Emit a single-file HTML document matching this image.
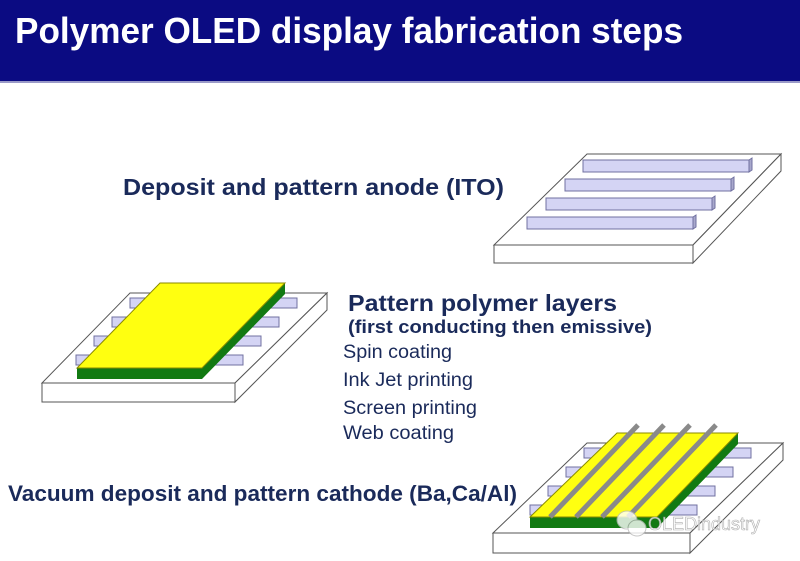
<!DOCTYPE html>
<html><head><meta charset="utf-8"><style>
html,body{margin:0;padding:0;background:#fff;}
svg{display:block;}
text{font-family:"Liberation Sans",Arial,sans-serif;}
</style></head><body>
<svg width="800" height="561" viewBox="0 0 800 561" xmlns="http://www.w3.org/2000/svg">
<rect x="0" y="0" width="800" height="561" fill="#fff"/>
<rect x="0" y="0" width="800" height="81" fill="#0b0b82"/>
<rect x="0" y="81" width="800" height="2" fill="#9a9ac8"/>
<text x="15" y="43" font-size="36" font-weight="bold" fill="#fff" textLength="668" lengthAdjust="spacingAndGlyphs">Polymer OLED display fabrication steps</text>

<!-- Figure 1: anode -->
<g stroke="#555" stroke-width="1" fill="#fff">
<polygon points="587,154 781,154 693,245 494,245"/>
<rect x="494" y="245" width="199" height="18"/>
<polygon points="693,245 781,154 781,171 693,263"/>
</g>
<g fill="#d4d4f4" stroke="#7070a0" stroke-width="1">
<rect x="583" y="160" width="166" height="12"/><polygon points="749,160 752,158 752,170 749,172" fill="#a8a8cc"/>
<rect x="565" y="179" width="166" height="12"/><polygon points="731,179 734,177 734,189 731,191" fill="#a8a8cc"/>
<rect x="546" y="198" width="166" height="12"/><polygon points="712,198 715,196 715,208 712,210" fill="#a8a8cc"/>
<rect x="527" y="217" width="166" height="12"/><polygon points="693,217 696,215 696,227 693,229" fill="#a8a8cc"/>
</g>

<!-- Figure 2 -->
<g stroke="#555" stroke-width="1" fill="#fff">
<polygon points="130,293 327,293 235,383 42,383"/>
<rect x="42" y="383" width="193" height="19"/>
<polygon points="235,383 327,293 327,310 235,402"/>
</g>
<g fill="#d4d4f4" stroke="#7070a0" stroke-width="1">
<rect x="130" y="298" width="167" height="10"/>
<rect x="112" y="317" width="167" height="10"/>
<rect x="94" y="336" width="167" height="10"/>
<rect x="76" y="355" width="167" height="10"/>
</g>
<polygon points="77,368 202,368 202,379 77,379" fill="#127a12"/>
<polygon points="202,368 285,283 285,294 202,379" fill="#127a12"/>
<polygon points="160,283 285,283 202,368 77,368" fill="#ffff10" stroke="#8a8a00" stroke-width="1"/>

<!-- Figure 3 -->
<g stroke="#555" stroke-width="1" fill="#fff">
<polygon points="587,443 783,443 690,533 493,533"/>
<rect x="493" y="533" width="197" height="20"/>
<polygon points="690,533 783,443 783,460 690,553"/>
</g>
<g fill="#d4d4f4" stroke="#7070a0" stroke-width="1">
<rect x="584" y="448" width="167" height="10"/>
<rect x="566" y="467" width="167" height="10"/>
<rect x="548" y="486" width="167" height="10"/>
<rect x="530" y="505" width="167" height="10"/>
</g>
<polygon points="530,517 657,517 657,528 530,528" fill="#127a12"/>
<polygon points="657,517 738,433 738,444 657,528" fill="#127a12"/>
<polygon points="617,433 738,433 657,517 530,517" fill="#ffff10" stroke="#8a8a00" stroke-width="1"/>
<g stroke="#8a8a8a" stroke-width="5" stroke-linecap="butt">
<line x1="638" y1="425" x2="550" y2="517"/>
<line x1="664" y1="425" x2="576" y2="517"/>
<line x1="690" y1="425" x2="602" y2="517"/>
<line x1="716" y1="425" x2="628" y2="517"/>
</g>

<!-- Texts -->
<g fill="#1a2a5a" font-weight="bold">
<text x="123" y="195" font-size="23" textLength="381" lengthAdjust="spacingAndGlyphs">Deposit and pattern anode (ITO)</text>
<text x="348" y="311" font-size="23" textLength="269" lengthAdjust="spacingAndGlyphs">Pattern polymer layers</text>
<text x="348" y="333" font-size="18.5" textLength="304" lengthAdjust="spacingAndGlyphs">(first conducting then emissive)</text>
<text x="8" y="501" font-size="22.5" textLength="509" lengthAdjust="spacingAndGlyphs">Vacuum deposit and pattern cathode (Ba,Ca/Al)</text>
</g>
<g fill="#1a2a5a" font-size="19">
<text x="343" y="358" textLength="109" lengthAdjust="spacingAndGlyphs">Spin coating</text>
<text x="343" y="386" textLength="130" lengthAdjust="spacingAndGlyphs">Ink Jet printing</text>
<text x="343" y="414" textLength="134" lengthAdjust="spacingAndGlyphs">Screen printing</text>
<text x="343" y="439" textLength="111" lengthAdjust="spacingAndGlyphs">Web coating</text>
</g>

<!-- watermark -->
<g opacity="0.8">
<ellipse cx="627" cy="520" rx="10" ry="9" fill="#fff" stroke="#bbb"/>
<ellipse cx="637" cy="528" rx="9" ry="8" fill="#fff" stroke="#bbb"/>
<text x="648" y="530" font-size="18" fill="#fff" stroke="#999" stroke-width="0.6">OLEDindustry</text>
</g>
</svg>
</body></html>
